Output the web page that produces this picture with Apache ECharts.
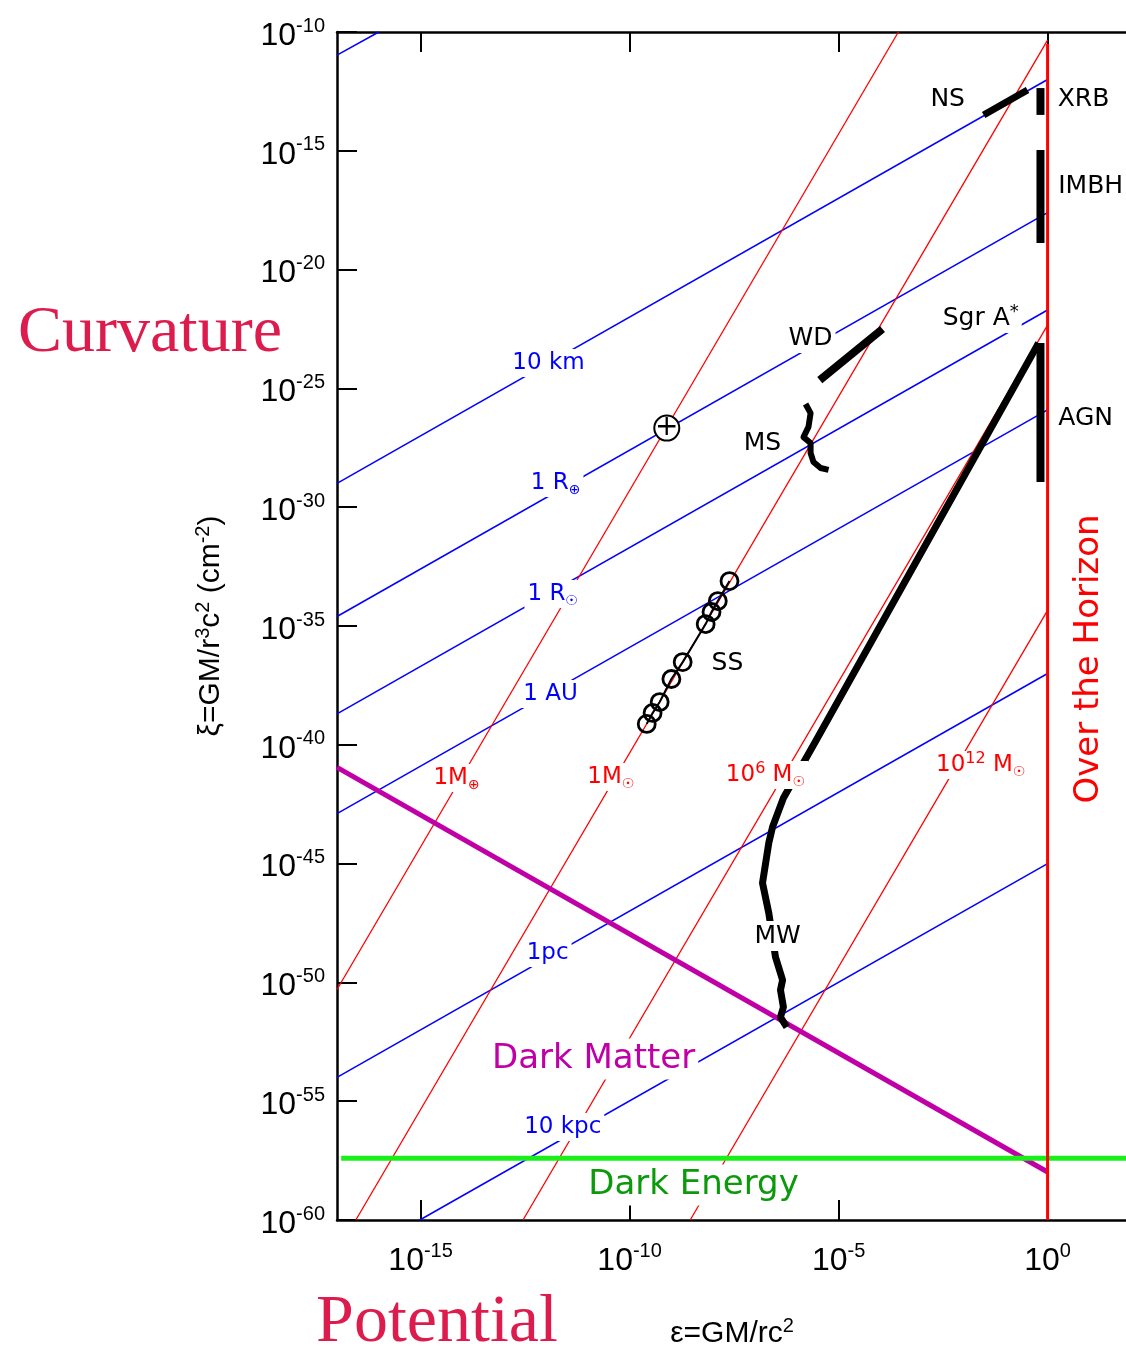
<!DOCTYPE html>
<html>
<head>
<meta charset="utf-8">
<title>Curvature vs Potential</title>
<script src="https://cdn.jsdelivr.net/npm/echarts@6/dist/echarts.min.js"></script>
<style>
  html, body { margin: 0; padding: 0; background: #fff; }
  #chart { width: 1126px; height: 1349px; }
</style>
</head>
<body>
<div id="chart"></div>
<script>
// all values are log10: x = potential GM/rc^2, y = curvature GM/r^3c^2 (cm^-2)
const xTicks = [-15, -10, -5, 0];

// constant radius lines (blue)
const radiusNames = ['', '10 km', '1 R{sub|⊕}', '1 R{sub|☉}', '1 AU', '1pc', '10 kpc'];
const radiusStart = [[-17, -10.97], [-17, -29], [-17, -34.6], [-17, -38.7], [-17, -42.9], [-17, -54], [-15.02, -60]];
const radiusEnd = [[-16, -10], [0, -12], [0, -17.6], [0, -21.7], [0, -25.9], [0, -37], [0, -45]];
const radiusLabelAt = [null, [-11.94, -23.93], [-11.77, -28.98], [-11.84, -33.65], [-11.89, -37.86], [-11.96, -48.76], [-11.6, -56.09]];

// constant mass lines (red)
const massNames = ['1M{sub|⊕}', '1M{sub|☉}', '10{sup|6} M{sub|☉}', '10{sup|12} M{sub|☉}'];
const massStart = [[-17, -50.3], [-16.55, -60], [-12.55, -60], [-8.55, -60]];
const massEnd = [[-3.57, -10], [0, -10.34], [0, -22.34], [0, -34.34]];
const massLabelAt = [[-14.14, -41.4], [-10.45, -41.36], [-6.75, -41.27], [-1.6, -40.85]];

const darkMatter = [[-17, -40.95], [0, -57.98]];
const darkEnergy = [[-16.9, -57.4], [1.9, -57.4]];
const horizon = [[0, -10.5], [0, -60]];

// objects
const ns = [[-1.53, -13.49], [-0.48, -12.44]];
const xrb = [[-0.17, -12.36], [-0.17, -13.49]];
const imbh = [[-0.17, -14.97], [-0.17, -18.88]];
const agn = [[-0.17, -23.09], [-0.17, -28.94]];
const wd = [[-5.45, -24.65], [-3.95, -22.5]];
const ms = [[-5.79, -25.66], [-5.67, -26.04], [-5.72, -26.62], [-5.84, -27.05], [-5.67, -27.3],
  [-5.67, -27.72], [-5.6, -28.1], [-5.43, -28.35], [-5.24, -28.43]];
const sgrToMw = [[-0.215, -23.09], [-5.6, -40.01], [-6.32, -42.24], [-6.58, -43.46],
  [-6.67, -44.13], [-6.82, -45.82], [-6.67, -47.08], [-6.51, -48.93], [-6.34, -49.9], [-6.39, -50.32],
  [-6.32, -51.04], [-6.39, -51.46], [-6.24, -51.88]];
const solarSystem = [[-9.59, -39.12], [-9.45, -38.66], [-9.28, -38.2], [-9.0, -37.23], [-8.73, -36.52],
  [-8.18, -34.92], [-8.04, -34.41], [-7.89, -33.95], [-7.61, -33.11]];
const earth = [-9.11, -26.67];

// text notes: [text, anchor, kind]
const notes = [
  ['NS', [-2.39, -12.82], 'obj'],
  ['XRB', [0.86, -12.82], 'obj'],
  ['IMBH', [1.03, -16.52], 'obj'],
  ['Sgr A{sup|*}', [-1.6, -22.04], 'obj'],
  ['WD', [-5.67, -22.88], 'obj'],
  ['MS', [-6.82, -27.34], 'obj'],
  ['AGN', [0.91, -26.25], 'obj'],
  ['SS', [-7.66, -36.56], 'obj'],
  ['MW', [-6.46, -48.05], 'obj'],
  ['Dark Matter', [-10.86, -53.22], 'dm'],
  ['Dark Energy', [-8.47, -58.53], 'de'],
  ['Over the Horizon', [1.0, -36.39], 'hor']
];

const SANS = 'DejaVu Sans';
const AX = 'Liberation Sans';

function seg(data, color, width, z) {
  return {
    type: 'line', data: data, showSymbol: false, symbol: 'none', silent: true,
    lineStyle: { color: color, width: width, cap: 'butt', join: 'round', opacity: 1 }, z: z
  };
}

function richFor(color, size) {
  return {
    sup: { color: color, fontFamily: SANS, fontSize: Math.round(size * 0.7), lineHeight: 12, verticalAlign: 'top' },
    sub: { color: color, fontFamily: SANS, fontSize: Math.round(size * 0.62), lineHeight: 10, verticalAlign: 'bottom' }
  };
}

const kinds = {
  obj: { color: '#000', size: 25 },
  blue: { color: '#0000ff', size: 23 },
  red: { color: '#ff0000', size: 23 },
  dm: { color: '#c000a6', size: 34 },
  de: { color: '#0c9a0c', size: 34 },
  hor: { color: '#ff0000', size: 34 }
};

function noteItem(text, at, kind) {
  const k = kinds[kind];
  return {
    value: at,
    label: {
      show: true, position: 'inside', formatter: text, opacity: 1,
      color: k.color, fontFamily: SANS, fontSize: k.size, lineHeight: Math.round(k.size * 1.2),
      backgroundColor: kind === 'hor' ? 'transparent' : '#fff', padding: [0, 3],
      rotate: kind === 'hor' ? 90 : 0,
      rich: richFor(k.color, k.size)
    }
  };
}

const series = [];
radiusStart.forEach((s, i) => series.push(seg([s, radiusEnd[i]], '#0000ff', 1.5, 2)));
massStart.forEach((s, i) => series.push(seg([s, massEnd[i]], '#ff0000', 1.3, 2)));
series.push(seg(darkMatter, '#c000a6', 5, 3));
series.push(seg(ns, '#000', 7, 4));
series.push(seg(xrb, '#000', 8, 4));
series.push(seg(imbh, '#000', 8, 4));
series.push(seg(agn, '#000', 8, 4));
series.push(seg(wd, '#000', 8, 4));
series.push(seg(ms, '#000', 6, 4));
series.push(seg(sgrToMw, '#000', 7, 4));
series.push(seg(darkEnergy, '#18f018', 5, 5));
series.push(seg(horizon, '#ff0000', 3, 6));
series.push({
  type: 'line', data: solarSystem, symbol: 'circle', symbolSize: 17, showSymbol: true, silent: true,
  lineStyle: { color: '#000', width: 2 },
  itemStyle: { color: 'rgba(0,0,0,0)', borderColor: '#000', borderWidth: 2.8, opacity: 1 }, z: 5
});
series.push({
  type: 'scatter', data: [earth], symbol: 'circle', symbolSize: 25, silent: true,
  itemStyle: { color: '#fff', borderColor: '#000', borderWidth: 2, opacity: 1 },
  label: { show: true, position: 'inside', formatter: '+', color: '#000', fontFamily: SANS, fontSize: 28, opacity: 1 },
  z: 8
});

const noteData = [];
radiusNames.forEach((t, i) => { if (t) noteData.push(noteItem(t, radiusLabelAt[i], 'blue')); });
massNames.forEach((t, i) => noteData.push(noteItem(t, massLabelAt[i], 'red')));
notes.forEach(n => noteData.push(noteItem(n[0], n[1], n[2])));
series.push({ type: 'scatter', data: noteData, symbolSize: 0, silent: true, itemStyle: { opacity: 1 }, z: 10 });

const tickRich = {
  b: { fontFamily: AX, fontSize: 32, lineHeight: 40, color: '#000' },
  s: { fontFamily: AX, fontSize: 20, lineHeight: 12, verticalAlign: 'top', color: '#000' }
};
const powLabel = v => '{b|10}{s|' + v + '}';

const chart = echarts.init(document.getElementById('chart'), null, { renderer: 'canvas' });
chart.setOption({
  animation: false,
  backgroundColor: '#fff',
  grid: { left: 337, top: 32, width: 790, height: 1188, containLabel: false, outerBoundsMode: 'none' },
  xAxis: [{
    type: 'value', min: -17, max: 1.9, position: 'bottom',
    name: '{n|ε=GM/rc}{sp|2}', nameLocation: 'middle', nameGap: 96,
    nameTextStyle: {
      rich: {
        n: { fontFamily: AX, fontSize: 30, lineHeight: 36, color: '#000' },
        sp: { fontFamily: AX, fontSize: 20, lineHeight: 14, verticalAlign: 'top', color: '#000' }
      }
    },
    axisLine: { onZero: false, lineStyle: { color: '#000', width: 2.5 } },
    axisTick: { inside: true, length: 20, customValues: xTicks, lineStyle: { color: '#000', width: 2 } },
    axisLabel: { customValues: xTicks, margin: 21, formatter: powLabel, rich: tickRich },
    splitLine: { show: false }
  }, {
    type: 'value', min: -17, max: 1.9, position: 'top',
    axisLine: { onZero: false, lineStyle: { color: '#000', width: 2.5 } },
    axisTick: { inside: true, length: 20, customValues: xTicks, lineStyle: { color: '#000', width: 2 } },
    axisLabel: { show: false },
    splitLine: { show: false }
  }],
  yAxis: {
    type: 'value', min: -60, max: -10, interval: 5,
    name: '{n|ξ=GM/r}{sp|3}{n|c}{sp|2}{n| (cm}{sp|-2}{n|)}', nameLocation: 'middle', nameGap: 108, nameRotate: 90,
    nameTextStyle: {
      rich: {
        n: { fontFamily: AX, fontSize: 30, lineHeight: 36, color: '#000' },
        sp: { fontFamily: AX, fontSize: 20, lineHeight: 14, verticalAlign: 'top', color: '#000' }
      }
    },
    axisLine: { onZero: false, lineStyle: { color: '#000', width: 2.5 } },
    axisTick: { inside: true, length: 20, lineStyle: { color: '#000', width: 2 } },
    axisLabel: { margin: 12, formatter: powLabel, rich: tickRich, padding: [8, 0, 0, 0] },
    splitLine: { show: false }
  },
  graphic: [
    { type: 'text', z: 20, style: { text: 'Curvature', x: 150, y: 334, textAlign: 'center', textVerticalAlign: 'middle',
      font: '66px "Liberation Serif"', fill: '#dd1c4e' } },
    { type: 'text', z: 20, style: { text: 'Potential', x: 437, y: 1323, textAlign: 'center', textVerticalAlign: 'middle',
      font: '68px "Liberation Serif"', fill: '#dd1c4e' } }
  ],
  series: series
});
</script>
</body>
</html>
